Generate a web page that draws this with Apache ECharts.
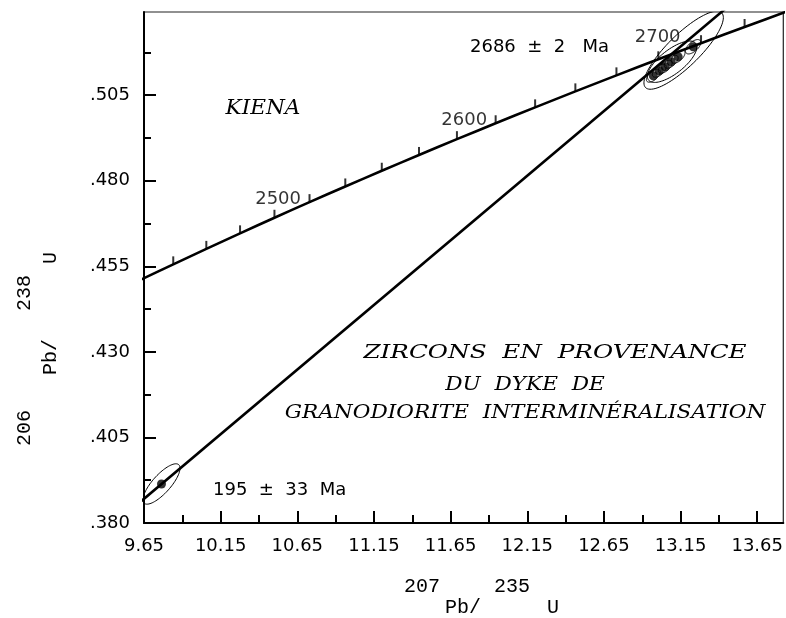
<!DOCTYPE html>
<html><head><meta charset="utf-8">
<script src="https://cdn.jsdelivr.net/npm/echarts@6/dist/echarts.min.js"></script>
<style>html,body{margin:0;padding:0;background:#fff}#c{width:786px;height:618px}</style>
</head><body><div id="c"></div>
<script>
// Axis ticks
const xTicks = [9.65, 10.15, 10.65, 11.15, 11.65, 12.15, 12.65, 13.15, 13.65];
const xMinorTicks = [9.90, 10.40, 10.90, 11.40, 11.90, 12.40, 12.90, 13.40];
const yTicks = [0.380, 0.405, 0.430, 0.455, 0.480, 0.505];
const yMinorTicks = [0.3925, 0.4175, 0.4425, 0.4675, 0.4925, 0.5175];
const xRange = [9.65, 13.82];
const yRange = [0.380, 0.5293];

// Concordia curve (age in Ma, 207Pb/235U, 206Pb/238U)
const concordiaAges = [2400, 2420, 2440, 2460, 2480, 2500, 2520, 2540, 2560, 2580, 2600, 2620, 2640, 2660, 2680, 2700, 2720, 2740];
const concordiaX = [9.6294, 9.8408, 10.0565, 10.2765, 10.5009, 10.7296, 10.9630, 11.2010, 11.4437, 11.6912, 11.9437, 12.2012, 12.4637, 12.7316, 13.0048, 13.2834, 13.5675, 13.8573];
const concordiaY = [0.45109, 0.45557, 0.46009, 0.46463, 0.46918, 0.47375, 0.47833, 0.48292, 0.48753, 0.49215, 0.49679, 0.50144, 0.50611, 0.51079, 0.51548, 0.52019, 0.52492, 0.52966];
const labelledAges = [2500, 2600, 2700];

// Discordia line (end points)
const discordiaX = [9.60, 13.50];
const discordiaY = [0.38518, 0.53244];

// Analyses: error ellipses (centre, half-width x, half-height y, correlation)
const ellX   = [9.764, 13.170, 13.095, 12.972, 13.011, 13.050, 13.089, 13.134, 13.232];
const ellY   = [0.3914, 0.51813, 0.51477, 0.51069, 0.51215, 0.51331, 0.51477, 0.51623, 0.51915];
const ellEX  = [0.121, 0.259, 0.161, 0.045, 0.045, 0.045, 0.045, 0.045, 0.050];
const ellEY  = [0.0059, 0.0114, 0.00605, 0.0019, 0.0019, 0.0019, 0.0019, 0.0019, 0.0021];
const ellRho = [0.78, 0.836, 0.714, 0.60, 0.60, 0.60, 0.60, 0.60, 0.60];
// Filled points
const dotX = [9.764, 12.972, 13.011, 13.050, 13.089, 13.134, 13.232];
const dotY = [0.3914, 0.51069, 0.51215, 0.51331, 0.51477, 0.51623, 0.51915];

const chart = echarts.init(document.getElementById('c'), null, {renderer: 'canvas'});
const sans = 'DejaVu Sans';

const concordiaData = concordiaX.map((x, i) => [x, concordiaY[i]]);
const ageLabelData = labelledAges.map(a => {
  const i = concordiaAges.indexOf(a);
  const item = {value: [concordiaX[i], concordiaY[i], a]};
  if (a === 2700) item.label = {distance: 20, offset: [0, -6]};
  return item;
});
const ellipseData = ellX.map((x, i) => [x, ellY[i], ellEX[i], ellEY[i], ellRho[i]]);

const baseX = {type: 'value', min: xRange[0], max: xRange[1], gridIndex: 0, position: 'bottom', splitLine: {show: false}};
const baseY = {type: 'value', min: yRange[0], max: yRange[1], gridIndex: 0, position: 'left', splitLine: {show: false}};

function txt(x, y, text, font, extra) {
  return Object.assign({type: 'text', x: x, y: y,
    style: {text: text, fill: '#000', font: font, textAlign: 'center', textVerticalAlign: 'middle'}}, extra || {});
}
const titleFont = '20px "Liberation Mono"';
const serifFont = 'italic 18px "DejaVu Serif"';

const option = {
  animation: false,
  backgroundColor: '#fff',
  grid: {left: 144, right: 2, top: 12, bottom: 95, show: true, borderColor: '#222', borderWidth: 1.2, backgroundColor: 'transparent'},
  xAxis: [
    Object.assign({}, baseX, {
      axisLine: {show: true, lineStyle: {color: '#000', width: 2}},
      axisTick: {show: true, inside: true, length: 12, customValues: xTicks, lineStyle: {color: '#000', width: 2}},
      axisLabel: {show: true, customValues: xTicks, margin: 14, color: '#000', fontFamily: sans, fontSize: 18,
        formatter: v => v.toFixed(2)}
    }),
    Object.assign({}, baseX, {
      axisLine: {show: false},
      axisTick: {show: true, inside: true, length: 8, customValues: xMinorTicks, lineStyle: {color: '#000', width: 2}},
      axisLabel: {show: false}
    })
  ],
  yAxis: [
    Object.assign({}, baseY, {
      axisLine: {show: true, lineStyle: {color: '#000', width: 2}},
      axisTick: {show: true, inside: true, length: 12, customValues: yTicks, lineStyle: {color: '#000', width: 2}},
      axisLabel: {show: true, customValues: yTicks, margin: 14, color: '#000', fontFamily: sans, fontSize: 18,
        formatter: v => v.toFixed(3).replace(/^0/, '')}
    }),
    Object.assign({}, baseY, {
      axisLine: {show: false},
      axisTick: {show: true, inside: true, length: 7, customValues: yMinorTicks, lineStyle: {color: '#000', width: 2}},
      axisLabel: {show: false}
    })
  ],
  series: [
    {
      name: 'ellipses', type: 'custom', xAxisIndex: 0, yAxisIndex: 0, clip: true,
      data: ellipseData,
      renderItem: function (params, api) {
        const cx = api.value(0), cy = api.value(1), ex = api.value(2), ey = api.value(3), r = api.value(4);
        const s = Math.sqrt(1 - r * r);
        const pts = [];
        const n = 90;
        for (let k = 0; k < n; k++) {
          const t = k / n * Math.PI * 2;
          const c = Math.cos(t), sn = Math.sin(t);
          pts.push(api.coord([cx + ex * c, cy + ey * (r * c + s * sn)]));
        }
        return {type: 'polygon', shape: {points: pts}, style: {fill: 'none', stroke: '#000', lineWidth: 1}};
      },
      z: 2
    },
    {
      name: 'concordia', type: 'line', xAxisIndex: 0, yAxisIndex: 0, data: concordiaData,
      showSymbol: false, symbol: 'none', clip: true, smooth: 0.2,
      lineStyle: {color: '#000', width: 2.6}, z: 3
    },
    {
      name: 'ageTicks', type: 'scatter', xAxisIndex: 0, yAxisIndex: 0, data: concordiaData, clip: true,
      symbol: 'rect', symbolSize: [2, 8], symbolOffset: [0, -4],
      itemStyle: {color: '#000'}, z: 3
    },
    {
      name: 'ageLabels', type: 'scatter', xAxisIndex: 0, yAxisIndex: 0, data: ageLabelData,
      symbolSize: 1, itemStyle: {color: 'rgba(0,0,0,0)'},
      label: {show: true, position: 'left', distance: 8, offset: [0, -3], color: '#000',
        fontFamily: sans, fontSize: 18, formatter: p => String(p.value[2])},
      z: 4
    },
    {
      name: 'discordia', type: 'line', xAxisIndex: 0, yAxisIndex: 0,
      data: discordiaX.map((x, i) => [x, discordiaY[i]]),
      showSymbol: false, symbol: 'none', clip: true,
      lineStyle: {color: '#000', width: 2.6}, z: 3
    },
    {
      name: 'points', type: 'scatter', xAxisIndex: 0, yAxisIndex: 0,
      data: dotX.map((x, i) => [x, dotY[i]]),
      symbol: 'circle', symbolSize: 9, itemStyle: {color: '#000'}, z: 5
    }
  ],
  graphic: [
    {type: 'text', x: 470, y: 47, style: {text: '2686  \u00b1  2   Ma', fill: '#000', font: '18px "DejaVu Sans"', textVerticalAlign: 'middle'}},
    {type: 'text', x: 213, y: 490, style: {text: '195  \u00b1  33  Ma', fill: '#000', font: '18px "DejaVu Sans"', textVerticalAlign: 'middle'}},
    txt(263, 109, 'KIENA', 'italic 20px "DejaVu Serif"', {scaleX: 1.08}),
    txt(555, 353, 'ZIRCONS  EN  PROVENANCE', 'italic 19px "DejaVu Serif"', {scaleX: 1.3}),
    txt(525, 385, 'DU  DYKE  DE', serifFont, {scaleX: 1.2}),
    txt(525, 413, 'GRANODIORITE  INTERMIN\u00c9RALISATION', serifFont, {scaleX: 1.2}),
    // x axis title
    txt(422, 587, '207', titleFont),
    txt(463, 608, 'Pb/', titleFont),
    txt(512, 587, '235', titleFont),
    txt(553, 608, 'U', titleFont),
    // y axis title (rotated, reading upwards)
    txt(25, 428, '206', titleFont, {rotation: Math.PI / 2}),
    txt(51, 357, 'Pb/', titleFont, {rotation: Math.PI / 2}),
    txt(25, 293, '238', titleFont, {rotation: Math.PI / 2}),
    txt(51, 258, 'U', titleFont, {rotation: Math.PI / 2})
  ]
};
chart.setOption(option);
</script>
</body></html>
